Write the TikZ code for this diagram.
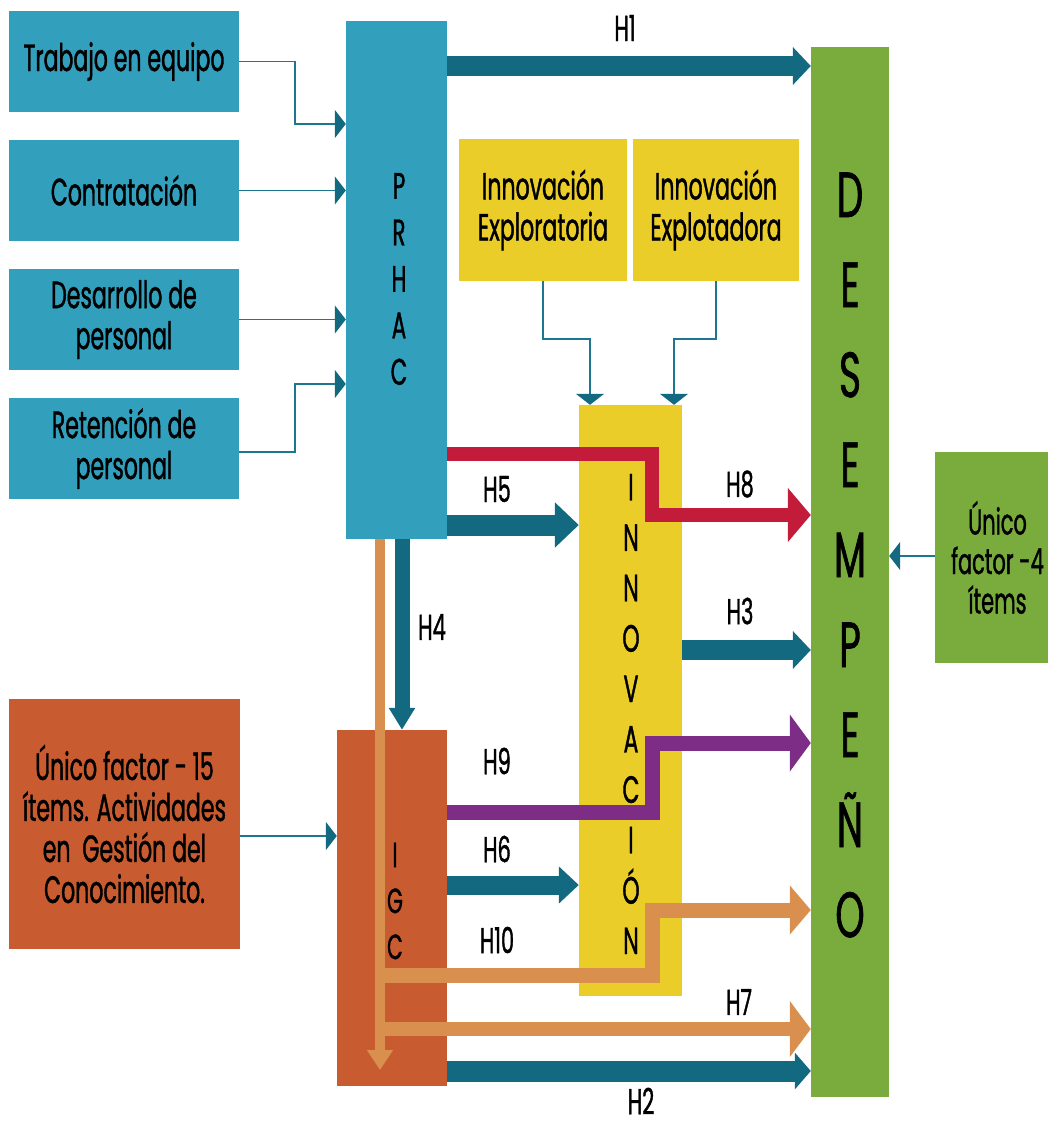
\documentclass[tikz,border=0pt]{standalone}
\usepackage{fontspec}
\setmainfont{Poppins}[FakeStretch=0.58,FakeBold=1]
\usetikzlibrary{arrows.meta}

\definecolor{boxblue}{RGB}{50,160,189}
\definecolor{darkteal}{RGB}{18,105,128}
\definecolor{linkteal}{RGB}{30,118,145}
\definecolor{ochre}{RGB}{235,205,42}
\definecolor{leaf}{RGB}{121,172,61}
\definecolor{rust}{RGB}{200,91,48}
\definecolor{peach}{RGB}{217,143,78}
\definecolor{crimson}{RGB}{195,27,58}
\definecolor{plum}{RGB}{126,45,135}

\tikzset{
  box/.style={rectangle, inner sep=0pt, draw=none, align=center,
    font=\fontsize{38}{41}\selectfont},
  bluebox/.style={box, fill=boxblue},
  yellowbox/.style={box, fill=ochre},
  greenbox/.style={box, fill=leaf},
  rustbox/.style={box, fill=rust},
  vletters/.style={inner sep=0pt, align=center},
  hlabel/.style={inner sep=0pt, font=\fontsize{36}{40}\selectfont},
  thinlink/.style={draw=linkteal, line width=1.5pt,
    -{Triangle[length=11pt 0 0, width=28pt 0 0, color=darkteal, fill=darkteal]}},
  tealarrow/.style={draw=darkteal, line width=20pt, line join=miter,
    -{Triangle[length=18pt 0 0, width=37pt 0 0]}},
  steparrow/.style={line width=14pt, line join=miter},
}

\begin{document}
\begin{tikzpicture}[x=1pt,y=-1pt]
\useasboundingbox (0,0) rectangle (1048,1125);

% input factors of PRHAC
\node[bluebox, minimum width=230, minimum height=101] (trab)  at (124,61.5)  {Trabajo en equipo};
\node[bluebox, minimum width=230, minimum height=101] (contr) at (124,190.5) {Contratación};
\node[bluebox, minimum width=230, minimum height=101] (desar) at (124,319.5) {Desarrollo de\\personal};
\node[bluebox, minimum width=230, minimum height=101] (reten) at (124,448.5) {Retención de\\personal};

% main constructs
\node[bluebox, minimum width=101, minimum height=518] (prhac) at (396.5,280) {};
\node[yellowbox, minimum width=168, minimum height=142] (explor) at (543,210) {Innovación\\Exploratoria};
\node[yellowbox, minimum width=166, minimum height=142] (explot) at (716,210) {Innovación\\Explotadora};
\node[yellowbox, minimum width=103, minimum height=591] (innov) at (630.5,700.5) {};
\node[greenbox, minimum width=78, minimum height=1050] (desemp) at (850,572) {};
\node[greenbox, minimum width=125, minimum height=211, font=\fontsize{36}{39.5}\selectfont]
  (unico4) at (997.5,557.5) {Único\\factor -4\\ítems};
\node[rustbox, minimum width=110, minimum height=356] (igc) at (392,908) {};
\node[rustbox, minimum width=231, minimum height=250] (unico15) at (124.5,824)
  {Único factor - 15\\ítems. Actividades\\en~ Gestión del\\Conocimiento.};

% stacked titles
\node[vletters, font=\fontsize{37}{46.5}\selectfont] (prhactxt) at (399,279) {P\\R\\H\\A\\C};
\node[vletters, font=\fontsize{38}{50.4}\selectfont] (innovtxt) at (631,714)
  {I\\N\\N\\O\\V\\A\\C\\I\\Ó\\N};
\node[vletters, font=\fontsize{64}{90}\selectfont] (desemptxt) at (850,555)
  {D\\E\\S\\E\\M\\P\\E\\Ñ\\O};
\node[vletters, font=\fontsize{35}{46}\selectfont] (igctxt) at (395,901) {I\\G\\C};

% thin links into the constructs
\draw[thinlink] (trab.east) -- (295,61.5) -- (295,124) -- (prhac.west |- 0,124);
\draw[thinlink] (contr.east) -- (prhac.west |- contr.east);
\draw[thinlink] (desar.east) -- (prhac.west |- desar.east);
\draw[thinlink] (reten.east |- 0,452) -- (295,452) -- (295,384) -- (prhac.west |- 0,384);
\draw[thinlink] (explor.south) -- (543,339) -- (590,339) -- (innov.north -| 590,0);
\draw[thinlink] (explot.south) -- (716,339) -- (674,339) -- (innov.north -| 674,0);
\draw[thinlink] (unico15.east |- 0,836) -- (igc.west |- 0,836);
\draw[thinlink] (unico4.west |- 0,556) -- (desemp.east |- 0,556);

% hypotheses
\draw[tealarrow] (prhac.east |- 0,66) -- (desemp.west |- 0,66);
\draw[tealarrow, line width=21pt, -{Triangle[length=24pt 0 0, width=44pt 0 0]}]
  (prhac.east |- 0,525) -- (innov.west |- 0,525);
\draw[tealarrow, line width=15pt, -{Triangle[length=22pt 0 0, width=25pt 0 0]}]
  (prhac.south -| 402,0) -- (igc.north -| 402,0);
\draw[tealarrow] (innov.east |- 0,650) -- (desemp.west |- 0,650);
\draw[tealarrow, line width=19pt, -{Triangle[length=20pt 0 0, width=36pt 0 0]}]
  (igc.east |- 0,885) -- (innov.west |- 0,885);
\draw[tealarrow, line width=21pt, -{Triangle[length=16pt 0 0, width=36pt 0 0]}]
  (igc.east |- 0,1071) -- (desemp.west |- 0,1071);

\draw[steparrow, draw=crimson, -{Triangle[length=23pt 0 0, width=53pt 0 0]}]
  (prhac.east |- 0,454) -- (652,454) -- (652,515) -- (desemp.west |- 0,515);
\draw[steparrow, line width=15pt, draw=plum, -{Triangle[length=21pt 0 0, width=56pt 0 0]}]
  (igc.east |- 0,812) -- (652,812) -- (652,743) -- (desemp.west |- 0,743);

\coordinate (spineend) at (380,1070);
\coordinate (b10) at (380,975);
\coordinate (b7) at (380,1029);
\draw[draw=peach, line width=10pt, -{Triangle[length=20pt 0 0, width=25pt 0 0]}]
  (prhac.south -| spineend) -- (spineend);
\draw[steparrow, line width=15pt, draw=peach, -{Triangle[length=21pt 0 0, width=48pt 0 0]}]
  (b10) -- (652,975) -- (652,910) -- (desemp.west |- 0,910);
\draw[steparrow, draw=peach, -{Triangle[length=21pt 0 0, width=55pt 0 0]}]
  (b7) -- (desemp.west |- b7);

% hypothesis labels
\node[hlabel] (lh1)  at (625,28)   {H1};
\node[hlabel] (lh2)  at (641,1101) {H2};
\node[hlabel] (lh3)  at (740,611)  {H3};
\node[hlabel] (lh4)  at (432,627)  {H4};
\node[hlabel] (lh5)  at (497,489)  {H5};
\node[hlabel] (lh6)  at (497,849)  {H6};
\node[hlabel] (lh7)  at (739,1002) {H7};
\node[hlabel] (lh8)  at (740,484)  {H8};
\node[hlabel] (lh9)  at (497,761)  {H9};
\node[hlabel] (lh10) at (497,940)  {H10};
\end{tikzpicture}
\end{document}
